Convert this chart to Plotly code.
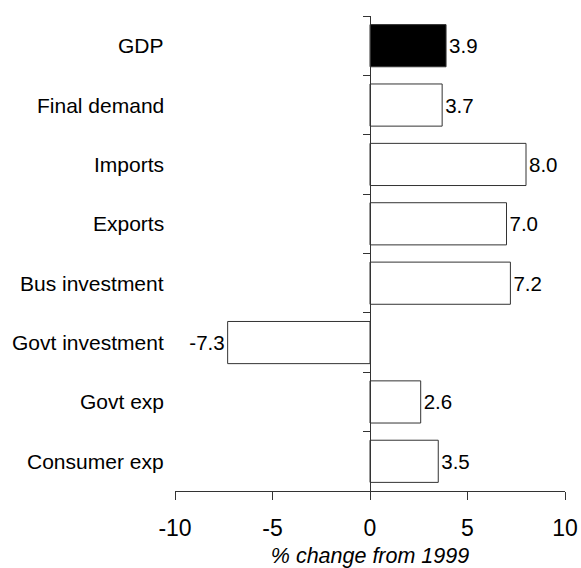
import plotly.graph_objects as go

categories = ["Consumer exp", "Govt exp", "Govt investment", "Bus investment",
              "Exports", "Imports", "Final demand", "GDP"]
values = [3.5, 2.6, -7.3, 7.2, 7.0, 8.0, 3.7, 3.9]
highlight = "GDP"
x_ticks = [-10, -5, 0, 5, 10]
x_title = "% change from 1999"

FONT = "Liberation Sans, Arial, sans-serif"

colors = ["#000000" if c == highlight else "#ffffff" for c in categories]

fig = go.Figure()
fig.add_trace(go.Bar(
    y=categories, x=values, orientation="h",
    marker=dict(color=colors, line=dict(color="#333333", width=1)),
    text=[f"{v:.1f}" for v in values], textposition="outside",
    textfont=dict(family=FONT, size=20.5, color="#000000"),
    cliponaxis=False, width=0.71,
))

for c in categories:
    fig.add_annotation(x=0, xref="paper", y=c, yref="y", text=c, showarrow=False,
                       xanchor="right", xshift=-9,
                       font=dict(family=FONT, size=21, color="#000000"))

fig.update_layout(
    width=581, height=568,
    margin=dict(l=175, r=16, t=16, b=77, autoexpand=False),
    plot_bgcolor="white", paper_bgcolor="white",
    showlegend=False,
    font=dict(family=FONT, color="#000000"),
    xaxis=dict(range=[-10, 10], tickvals=x_ticks, ticktext=[str(t) for t in x_ticks],
               automargin=False,
               showline=True, linecolor="#333333", linewidth=1,
               ticks="outside", ticklen=8, tickcolor="#333333", tickwidth=1,
               ticklabelstandoff=8,
               showgrid=False, zeroline=False,
               tickfont=dict(family=FONT, size=23, color="#000000"),
               title=dict(text="<i>" + x_title + "</i>", standoff=12,
                          font=dict(family=FONT, size=21.5, color="#000000"))),
    yaxis=dict(range=[-0.5, 7.5], anchor="free", position=0.5, automargin=False,
               showline=True, linecolor="#333333", linewidth=1,
               ticks="outside", ticklen=7, tickcolor="#333333", tickwidth=1,
               tickson="boundaries", showticklabels=False, showgrid=False,
               zeroline=False),
)

fig.write_html("out.html")
